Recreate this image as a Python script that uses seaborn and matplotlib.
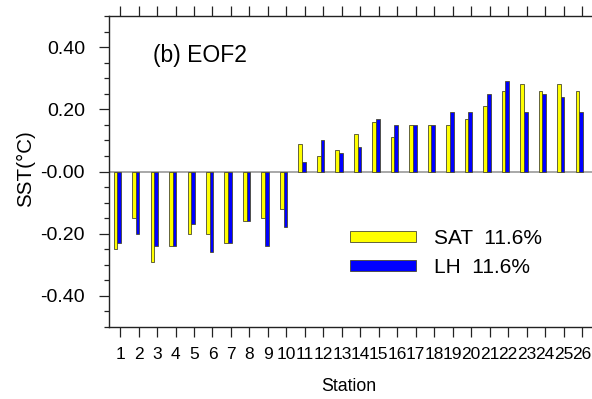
import matplotlib
matplotlib.use("Agg")
import matplotlib.pyplot as plt
import seaborn as sns
import pandas as pd
import numpy as np
from matplotlib.ticker import FixedLocator, MultipleLocator

stations = [str(i) for i in range(1, 27)]
sat = [-0.25, -0.15, -0.29, -0.24, -0.20, -0.20, -0.23, -0.16, -0.15, -0.12,
       0.09, 0.05, 0.07, 0.12, 0.16, 0.11, 0.15, 0.15, 0.15, 0.17,
       0.21, 0.26, 0.28, 0.26, 0.28, 0.26]
lh = [-0.23, -0.20, -0.24, -0.24, -0.17, -0.26, -0.23, -0.16, -0.24, -0.18,
      0.03, 0.10, 0.06, 0.08, 0.17, 0.15, 0.15, 0.15, 0.19, 0.19,
      0.25, 0.29, 0.19, 0.25, 0.24, 0.19]
series_labels = ["SAT  11.6%", "LH  11.6%"]
yticks = [-0.4, -0.2, 0.0, 0.2, 0.4]
ytick_labels = ["-0.40", "-0.20", "-0.00", "0.20", "0.40"]
title = "(b) EOF2"
xlabel = "Station"
ylabel = "SST(\u00b0C)"

df = pd.DataFrame({
    "Station": stations * 2,
    "value": sat + lh,
    "series": [series_labels[0]] * len(sat) + [series_labels[1]] * len(lh),
})

sns.set_style("white")
plt.rcParams["font.family"] = ["Liberation Sans", "DejaVu Sans"]
plt.rcParams["text.color"] = "black"
plt.rcParams["axes.labelcolor"] = "black"
plt.rcParams["xtick.color"] = "black"
plt.rcParams["ytick.color"] = "black"

W, H = 592, 399
fig = plt.figure(figsize=(W / 100, H / 100), dpi=100)
ax = fig.add_axes([109 / W, 1 - 327 / H, (592 - 109) / W, (327 - 16) / H])

ax.axhline(0, color="#9a9a9a", lw=1.2, zorder=0.5)
sns.barplot(data=df, x="Station", y="value", hue="series", order=stations,
            hue_order=series_labels, palette=["#ffff00", "#0000ff"],
            saturation=1, width=0.4, gap=0, errorbar=None, edgecolor="#4a4a30",
            linewidth=0.6, ax=ax, zorder=2)

ax.set_xlim(-0.45, 25.69)
ax.set_ylim(-0.5, 0.5)
ax.set_xticks(np.arange(len(stations)) + 0.15)
ax.set_xticklabels(stations)
ax.yaxis.set_major_locator(FixedLocator(yticks))
ax.set_yticklabels(ytick_labels)
ax.yaxis.set_minor_locator(MultipleLocator(0.05))

for s in ["left", "top", "bottom"]:
    ax.spines[s].set_visible(True)
    ax.spines[s].set_color("#222222")
    ax.spines[s].set_linewidth(1.0)
ax.spines["right"].set_visible(False)

ax.tick_params(axis="x", which="major", direction="out", length=7.2, width=0.9,
               color="#222222", labelcolor="black", top=True, bottom=True,
               labelsize=12.5, pad=7)
ax.tick_params(axis="y", which="major", direction="out", length=7.2, width=0.9,
               color="#222222", labelcolor="black", left=True, right=False,
               labelsize=14, pad=10)
ax.tick_params(axis="y", which="minor", direction="out", length=3.6, width=0.9,
               color="#222222", left=True, right=False)

ax.set_xlabel(xlabel, fontsize=12.8, color="black")
ax.xaxis.set_label_coords((349 - 109) / 483, -0.164)
ax.set_ylabel(ylabel, fontsize=14.8, color="black")
ax.yaxis.set_label_coords((35 - 109) / 483, (327 - 168.5) / 311)

ax.text((152.7 - 109) / 483, 1 - (62.0 - 16) / 311, title, transform=ax.transAxes,
        fontsize=16.5, va="baseline", ha="left", color="black")

handles, labels = ax.get_legend_handles_labels()
leg = ax.legend(handles, labels, loc="upper left",
                bbox_to_anchor=((350 - 109) / 483, 1 - (229 - 16) / 311),
                frameon=False, fontsize=15, handlelength=3.17, handleheight=0.48,
                handletextpad=0.87, labelspacing=0.475, borderpad=0, borderaxespad=0)
for t in leg.get_texts():
    t.set_color("black")

fig.savefig("out.png", dpi=100)
